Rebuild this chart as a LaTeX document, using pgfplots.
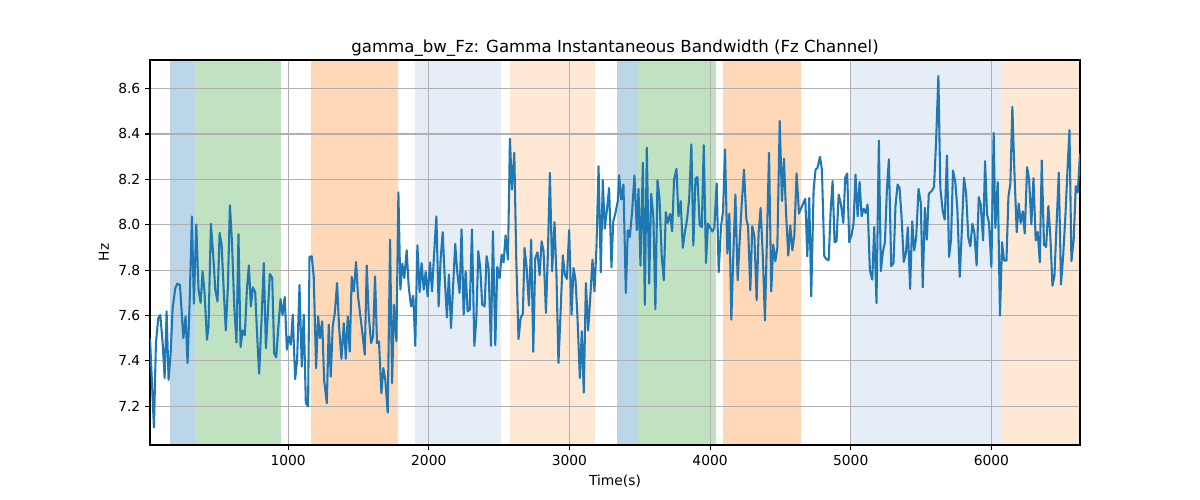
\documentclass[border=0pt]{standalone}
\usepackage{pgfplots}
\pgfplotsset{compat=1.18}
\usepackage{fontspec}
\setmainfont{DejaVu Sans}
\definecolor{tabblue}{RGB}{31,119,180}
\definecolor{bandblue}{RGB}{188,214,233}
\definecolor{bandgreen}{RGB}{192,226,192}
\definecolor{bandorange}{RGB}{255,217,183}
\definecolor{bandlblue}{RGB}{229,237,246}
\definecolor{bandlorange}{RGB}{255,233,213}
\definecolor{gridgray}{RGB}{176,176,176}
\begin{document}
\begin{tikzpicture}
\begin{axis}[
  at={(0,0)}, anchor=south west,
  scale only axis, width=9.3in, height=3.85in,
  xmin=18, xmax=6630, ymin=7.029, ymax=8.726,
  xtick={1000,2000,3000,4000,5000,6000},
  ytick={7.2,7.4,7.6,7.8,8.0,8.2,8.4,8.6},
  set layers,
  grid=major, grid style={color=gridgray, line width=0.8pt},
  tick align=outside, xtick pos=bottom, ytick pos=left,
  major tick length=3.5pt,
  tick style={black, line width=0.8pt},
  axis line style={line width=0.8pt},
  ticklabel style={font=\fontsize{10}{12}\selectfont},
  /pgf/number format/assume math mode=true,
  x tick label style={/pgf/number format/.cd, 1000 sep={}},
  y tick label style={/pgf/number format/.cd, fixed, fixed zerofill, precision=1},
  title={gamma\_bw\_Fz: Gamma Instantaneous Bandwidth (Fz Channel)},
  title style={font=\fontsize{12}{14}\selectfont, yshift=-7pt},
  xlabel={Time(s)}, ylabel={Hz},
  label style={font=\fontsize{10}{12}\selectfont},
]
\addplot[draw=none, fill=bandblue, on layer=axis background] coordinates {(160,7.029) (160,8.726) (340,8.726) (340,7.029)} -- cycle;
\addplot[draw=none, fill=bandgreen, on layer=axis background] coordinates {(340,7.029) (340,8.726) (946,8.726) (946,7.029)} -- cycle;
\addplot[draw=none, fill=bandorange, on layer=axis background] coordinates {(1161,7.029) (1161,8.726) (1784,8.726) (1784,7.029)} -- cycle;
\addplot[draw=none, fill=bandlblue, on layer=axis background] coordinates {(1900,7.029) (1900,8.726) (2515,8.726) (2515,7.029)} -- cycle;
\addplot[draw=none, fill=bandlorange, on layer=axis background] coordinates {(2575,7.029) (2575,8.726) (3183,8.726) (3183,7.029)} -- cycle;
\addplot[draw=none, fill=bandblue, on layer=axis background] coordinates {(3339,7.029) (3339,8.726) (3486,8.726) (3486,7.029)} -- cycle;
\addplot[draw=none, fill=bandgreen, on layer=axis background] coordinates {(3486,7.029) (3486,8.726) (4042,8.726) (4042,7.029)} -- cycle;
\addplot[draw=none, fill=bandorange, on layer=axis background] coordinates {(4094,7.029) (4094,8.726) (4646,8.726) (4646,7.029)} -- cycle;
\addplot[draw=none, fill=bandlblue, on layer=axis background] coordinates {(5003,7.029) (5003,8.726) (6071,8.726) (6071,7.029)} -- cycle;
\addplot[draw=none, fill=bandlorange, on layer=axis background] coordinates {(6071,7.029) (6071,8.726) (6630,8.726) (6630,7.029)} -- cycle;
\addplot[tabblue, line width=1.5pt, line join=round] table {
x y
18 7.50
46 7.106
60 7.478
77 7.589
91 7.602
108 7.478
122 7.324
136 7.618
150 7.316
165 7.434
179 7.633
198 7.721
212 7.740
231 7.734
255 7.500
271 7.596
285 7.390
299 7.640
316 8.037
330 7.652
347 8.001
363 7.714
378 7.655
392 7.795
406 7.699
423 7.493
434 7.552
451 8.004
468 7.861
482 7.714
498 7.662
513 7.964
527 7.912
543 7.699
557 7.534
572 7.728
586 8.086
600 7.934
617 7.640
633 7.481
647 7.958
662 7.460
676 7.534
692 7.513
707 7.714
721 7.821
735 7.640
749 7.724
766 7.703
780 7.508
794 7.343
811 7.581
827 7.831
842 7.456
856 7.611
870 7.783
887 7.765
901 7.434
915 7.416
931 7.552
946 7.672
960 7.602
976 7.681
991 7.449
1005 7.508
1019 7.471
1033 7.603
1050 7.319
1064 7.405
1081 7.734
1097 7.375
1111 7.603
1126 7.213
1142 7.199
1152 7.858
1168 7.861
1182 7.772
1199 7.368
1213 7.596
1227 7.500
1242 7.574
1256 7.316
1275 7.213
1289 7.559
1303 7.331
1317 7.552
1332 7.611
1348 7.743
1362 7.552
1379 7.409
1396 7.566
1410 7.409
1424 7.596
1438 7.441
1452 7.770
1467 7.706
1483 7.836
1497 7.684
1511 7.611
1528 7.522
1545 7.427
1559 7.820
1573 7.603
1590 7.478
1604 7.508
1618 7.772
1632 7.478
1646 7.486
1663 7.257
1677 7.368
1691 7.316
1708 7.172
1725 7.934
1739 7.302
1753 7.647
1770 7.486
1784 8.143
1798 7.714
1812 7.828
1826 7.765
1843 7.887
1857 7.728
1874 7.640
1890 7.687
1904 7.466
1919 7.909
1935 7.703
1949 7.831
1964 7.714
1978 7.792
1992 7.684
2009 7.834
2023 7.706
2037 7.861
2054 8.037
2070 7.640
2084 7.846
2099 7.967
2113 7.772
2129 7.591
2143 7.780
2158 7.544
2174 7.743
2188 7.915
2203 7.787
2219 7.699
2233 7.979
2248 7.603
2262 7.795
2276 7.618
2291 7.625
2307 7.979
2324 7.466
2338 7.581
2352 7.883
2366 7.809
2380 7.647
2397 7.640
2411 7.861
2425 7.809
2442 7.466
2456 7.971
2473 7.469
2487 7.814
2504 7.765
2518 7.868
2532 7.834
2546 7.953
2563 7.846
2577 8.379
2591 8.155
2608 8.317
2622 7.846
2638 7.496
2653 7.589
2669 7.608
2681 7.898
2695 7.817
2712 7.643
2728 7.934
2743 7.440
2757 7.853
2773 7.878
2788 7.777
2802 7.927
2816 7.883
2833 7.611
2847 7.875
2861 8.229
2877 7.795
2894 8.011
2908 7.772
2922 7.390
2937 7.611
2953 7.865
2967 7.780
2982 7.761
2998 7.976
3015 7.603
3029 7.809
3043 7.758
3057 7.596
3074 7.324
3088 7.530
3102 7.260
3117 7.743
3133 7.534
3147 7.669
3164 7.846
3178 7.706
3192 7.898
3207 8.258
3223 7.790
3237 8.196
3251 7.983
3268 8.074
3282 8.162
3299 7.812
3311 8.012
3327 8.052
3344 8.104
3353 8.218
3368 8.111
3384 8.177
3401 7.699
3415 7.976
3429 7.946
3446 8.059
3462 8.217
3479 7.976
3491 8.158
3505 7.820
3522 8.273
3536 7.647
3550 8.339
3567 7.740
3581 8.136
3597 8.030
3611 7.628
3626 8.196
3640 8.118
3656 7.861
3671 7.755
3685 8.055
3699 8.008
3716 8.048
3730 7.971
3744 8.199
3761 8.246
3775 8.037
3791 8.104
3806 7.898
3820 7.964
3836 8.023
3851 8.111
3867 8.354
3881 7.908
3896 8.202
3910 8.210
3926 7.998
3941 7.989
3955 8.351
3971 7.831
3985 8.005
4002 7.986
4016 7.970
4030 7.986
4047 8.182
4061 7.790
4078 7.993
4092 8.059
4106 8.332
4123 7.873
4137 8.049
4151 7.581
4165 7.861
4180 8.133
4196 7.755
4210 7.927
4224 8.082
4241 8.243
4258 8.023
4270 7.993
4286 7.711
4300 7.993
4315 7.949
4331 7.667
4345 7.964
4359 8.074
4376 7.846
4390 7.578
4404 7.934
4419 8.317
4435 7.706
4449 7.912
4464 7.839
4478 7.898
4495 8.457
4511 8.104
4525 8.291
4540 8.052
4556 7.864
4570 7.996
4585 7.887
4599 7.956
4615 8.226
4632 8.049
4648 8.074
4665 8.099
4677 8.114
4691 7.861
4705 8.118
4719 7.684
4736 8.155
4750 8.243
4764 8.251
4781 8.299
4795 8.243
4812 7.861
4826 7.849
4843 7.843
4857 8.059
4871 8.192
4885 7.923
4899 7.927
4914 8.133
4930 8.092
4947 8.008
4961 8.207
4975 8.226
4989 7.923
5006 7.956
5020 8.005
5034 8.221
5049 8.037
5063 8.189
5077 8.037
5091 8.070
5105 8.052
5120 8.089
5136 7.799
5153 7.758
5167 7.990
5183 7.655
5200 8.371
5214 7.795
5228 7.878
5243 7.923
5257 8.155
5271 8.288
5288 7.817
5304 7.831
5318 8.082
5333 8.177
5347 8.162
5361 8.037
5377 7.836
5392 7.875
5406 7.989
5422 7.717
5437 8.015
5451 7.887
5465 7.942
5482 8.158
5498 8.096
5512 7.724
5527 8.074
5541 7.934
5555 8.136
5575 8.148
5592 8.167
5606 8.354
5623 8.655
5637 8.162
5654 8.059
5668 8.023
5684 8.305
5699 7.858
5713 7.934
5727 8.239
5744 8.185
5758 8.067
5775 7.770
5789 7.964
5805 8.207
5820 8.140
5836 7.942
5850 7.905
5865 8.004
5879 7.964
5895 7.820
5910 8.121
5924 8.089
5941 7.931
5955 8.280
5969 8.045
5983 8.008
6000 7.814
6016 8.405
6028 7.986
6045 8.188
6061 7.599
6076 7.923
6090 7.842
6107 7.842
6121 8.123
6135 8.182
6149 8.520
6163 8.243
6180 7.967
6194 8.093
6208 8.008
6223 8.059
6237 7.961
6254 8.254
6268 8.199
6284 8.001
6299 8.205
6315 7.931
6329 7.968
6344 7.834
6358 8.283
6374 7.912
6389 7.902
6405 8.082
6419 7.949
6434 7.731
6448 7.772
6465 8.023
6479 8.229
6495 7.736
6510 7.861
6526 8.037
6540 8.229
6555 8.417
6569 7.839
6585 7.934
6600 8.170
6614 8.143
6630 8.313
};
\end{axis}
\pgfresetboundingbox
\path[use as bounding box] (-1.5in,-0.55in) rectangle (10.5in,4.45in);
\end{tikzpicture}
\end{document}
